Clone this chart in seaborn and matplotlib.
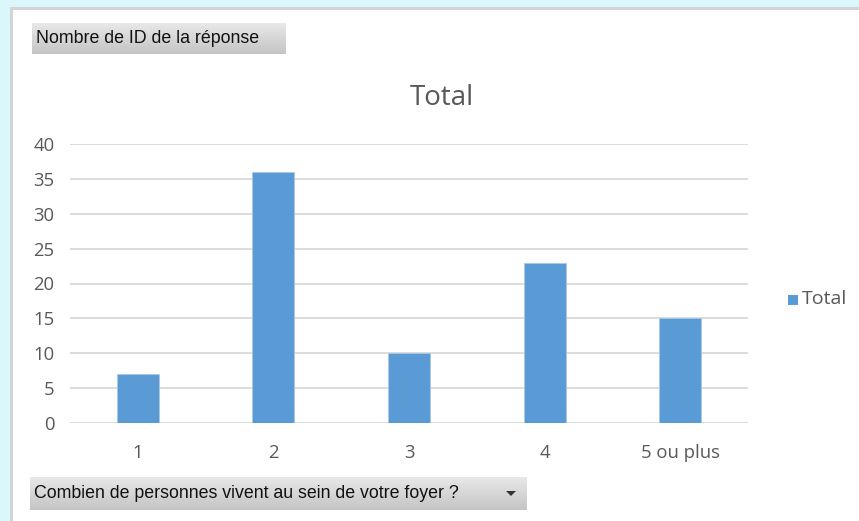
import numpy as np
import pandas as pd
import matplotlib.pyplot as plt
import seaborn as sns
from matplotlib.patches import Rectangle, Polygon

categories = ["1", "2", "3", "4", "5 ou plus"]
totals = [7, 36, 10, 23, 15]
y_ticks = [0, 5, 10, 15, 20, 25, 30, 35, 40]

df = pd.DataFrame({"foyer": categories, "Total": totals})

W, H = 859, 521
bar_color = "#5B9BD5"
text_grey = "#595959"

sns.set_style("white")
plt.rcParams["font.family"] = ["Open Sans", "DejaVu Sans"]

fig = plt.figure(figsize=(W / 100, H / 100), dpi=100)
fig.patch.set_facecolor("#DAF7FB")


def px(x0, y0, x1, y1):
    # pixel box (top-left origin) -> figure fraction rect
    return [x0 / W, 1 - y1 / H, (x1 - x0) / W, (y1 - y0) / H]


# white chart area with grey border
fig.patches.append(Rectangle((10 / W, 0), 1, 1 - 7 / H, transform=fig.transFigure,
                             facecolor="#D4D4D4", edgecolor="none", zorder=-20))
fig.patches.append(Rectangle((13 / W, 0), 1, 1 - 10 / H, transform=fig.transFigure,
                             facecolor="white", edgecolor="none", zorder=-10))

ax = fig.add_axes(px(70, 144, 748, 423))
ax.set_facecolor("none")
sns.barplot(data=df, x="foyer", y="Total", color=bar_color, width=0.31,
            saturation=1, ax=ax, zorder=3, edgecolor="#A9C8E8", linewidth=0.6)
ax.set_ylim(0, 40)
ax.set_xlim(-0.5, len(categories) - 0.5)
ax.set_yticks(y_ticks)
for y in y_ticks:
    ax.axhline(y, color="#D9D9D9", lw=1.3, zorder=1)
for s in ax.spines.values():
    s.set_visible(False)
ax.set_xlabel("")
ax.set_ylabel("")
ax.tick_params(axis="both", length=0, colors=text_grey, labelsize=13.3)
ax.tick_params(axis="y", pad=11)
ax.tick_params(axis="x", pad=15)

fig.text(442 / W, 1 - 105 / H, "Total", ha="center", va="baseline",
         fontsize=20, color=text_grey)

# legend
fig.patches.append(Rectangle((788 / W, 1 - 305 / H), 10 / W, 10 / H,
                             transform=fig.transFigure, facecolor=bar_color,
                             edgecolor="none"))
fig.text(802 / W, 1 - 299 / H, "Total", ha="left", va="center",
         fontsize=14, color=text_grey)


def button(x0, y0, x1, y1, label, arrow=False):
    bax = fig.add_axes(px(x0, y0, x1, y1))
    grad = np.linspace(0.91, 0.77, 50).reshape(-1, 1)
    bax.imshow(np.dstack([grad, grad, grad]), aspect="auto", extent=[0, 1, 0, 1])
    bax.set_axis_off()
    bax.text(4 / (x1 - x0), 0.5, label, ha="left", va="center", fontsize=12.8,
             color="#111111", family=["Liberation Sans", "DejaVu Sans"],
             transform=bax.transAxes)
    if arrow:
        cx = (x1 - 16 - x0) / (x1 - x0)
        w = 5 / (x1 - x0)
        h = 5 / (y1 - y0)
        bax.add_patch(Polygon([[cx - w, 0.5 + h / 2], [cx + w, 0.5 + h / 2],
                               [cx, 0.5 - h / 2]], closed=True,
                              facecolor="#333333", edgecolor="none",
                              transform=bax.transAxes))


button(32, 23, 286, 54, "Nombre de ID de la réponse")
button(30, 477, 527, 510, "Combien de personnes vivent au sein de votre foyer ?", arrow=True)

fig.savefig("out.png", dpi=100)
